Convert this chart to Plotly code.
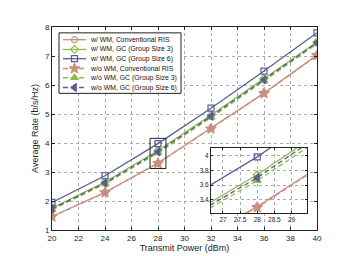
import plotly.graph_objects as go

power = [20, 24, 28, 32, 36, 40]
wm_conv = [1.47, 2.30, 3.31, 4.50, 5.72, 7.03]
wm_gc3 = [1.76, 2.65, 3.74, 4.96, 6.22, 7.48]
wm_gc6 = [1.95, 2.87, 3.98, 5.20, 6.48, 7.80]
wo_conv = [1.46, 2.29, 3.30, 4.49, 5.71, 7.02]
wo_gc3 = [1.70, 2.59, 3.66, 4.88, 6.14, 7.42]
wo_gc6 = [1.73, 2.62, 3.70, 4.92, 6.18, 7.46]

names = ["w/ WM, Conventional RIS", "w/ WM, GC (Group Size 3)", "w/ WM, GC (Group Size 6)",
         "w/o WM, Conventional RIS", "w/o WM, GC (Group Size 3)", "w/o WM, GC (Group Size 6)"]
series = [wm_conv, wm_gc3, wm_gc6, wo_conv, wo_gc3, wo_gc6]

main_xticks = [20, 22, 24, 26, 28, 30, 32, 34, 36, 38, 40]
main_yticks = [1, 2, 3, 4, 5, 6, 7, 8]
inset_xticks = [27, 27.5, 28, 28.5, 29]
inset_yticks = [3.4, 3.6, 3.8, 4]

SAL = "#c98f80"
GRN = "#8cbf45"
BLU = "#5b5b98"
colors = [SAL, GRN, BLU, SAL, GRN, BLU]
dashes = ["solid", "solid", "solid", "5px,3px", "5px,3px", "5px,3px"]
symbols = ["circle-open", "diamond-open", "square-open", "star", "triangle-up", "triangle-left"]
msizes = [6, 6, 6, 8, 7, 7]

fig = go.Figure()

for xa, ya in [("x", "y"), ("x2", "y2")]:
    for s, n, c, d, sym, ms in zip(series, names, colors, dashes, symbols, msizes):
        fig.add_trace(go.Scatter(
            x=power, y=s, name=n, mode="lines+markers", xaxis=xa, yaxis=ya,
            line=dict(color=c, width=1.3, dash=d),
            marker=dict(symbol=sym, size=ms, color=c, line=dict(color=c, width=1.2)),
            showlegend=False, cliponaxis=True))

# custom legend on pixel-like overlay axes
box_x = [51, 173, 173, 51, 51]
box_y = [25, 25, 87, 87, 25]
fig.add_trace(go.Scatter(x=box_x, y=box_y, xaxis="x3", yaxis="y3", mode="lines",
                         fill="toself", fillcolor="white", line=dict(color="#222", width=1),
                         showlegend=False, hoverinfo="skip"))
rows = [32, 42, 51.5, 61.5, 71, 81]
for ry, n, c, d, sym, ms in zip(rows, names, colors, dashes, symbols, msizes):
    fig.add_trace(go.Scatter(x=[55, 78], y=[ry, ry], xaxis="x3", yaxis="y3", mode="lines",
                             line=dict(color=c, width=1.3, dash=d), showlegend=False, hoverinfo="skip"))
    fig.add_trace(go.Scatter(x=[66.5], y=[ry], xaxis="x3", yaxis="y3", mode="markers",
                             marker=dict(symbol=sym, size=ms, color=c, line=dict(color=c, width=1.2)),
                             showlegend=False, hoverinfo="skip"))
    fig.add_annotation(x=80, y=ry, xref="x3", yref="y3", text=n, showarrow=False,
                       xanchor="left", yanchor="middle",
                       font=dict(family="Liberation Sans, Arial", size=6.9, color="#111"))

# zoom rectangle on main plot
fig.add_shape(type="rect", xref="x", yref="y", x0=27.4, x1=28.6, y0=3.12, y1=4.16,
              line=dict(color="#222", width=1), layer="above")

axcommon = dict(ticks="inside", showline=True, mirror="ticks", linecolor="#222", linewidth=1,
                tickcolor="#222", showgrid=True, gridcolor="#aaaaaa", griddash="dot", gridwidth=0.8,
                zeroline=False, tickfont=dict(family="Liberation Sans, Arial", size=8, color="#222"))
insetfont = dict(family="Liberation Sans, Arial", size=6.5, color="#222")

fig.update_layout(
    width=341, height=256,
    margin=dict(l=44, r=32, t=19, b=29),
    paper_bgcolor="white", plot_bgcolor="white",
    font=dict(family="Liberation Sans, Arial", color="#222"),
    xaxis=dict(domain=[0, 1], range=[20, 40], tickvals=main_xticks, ticklen=3, anchor="y",
               title=dict(text="Transmit Power (dBm)", font=dict(size=9), standoff=3), **axcommon),
    yaxis=dict(domain=[0, 1], range=[1, 8], tickvals=main_yticks, ticklen=3, anchor="x",
               title=dict(text="Average Rate (b/s/Hz)", font=dict(size=9), standoff=4), **axcommon),
    xaxis2=dict(domain=[0.6, 0.962], range=[26.65, 29.45], tickvals=inset_xticks, ticklen=2,
                anchor="y2", **{**axcommon, "tickfont": insetfont}),
    yaxis2=dict(domain=[0.082, 0.404], range=[3.22, 4.1], tickvals=inset_yticks, ticklen=2,
                anchor="x2", **{**axcommon, "tickfont": insetfont}),
    xaxis3=dict(overlaying="x", range=[44, 309], visible=False, anchor="y3"),
    yaxis3=dict(overlaying="y", range=[227, 19], visible=False, anchor="x3"),
)

fig.write_html("out.html")
